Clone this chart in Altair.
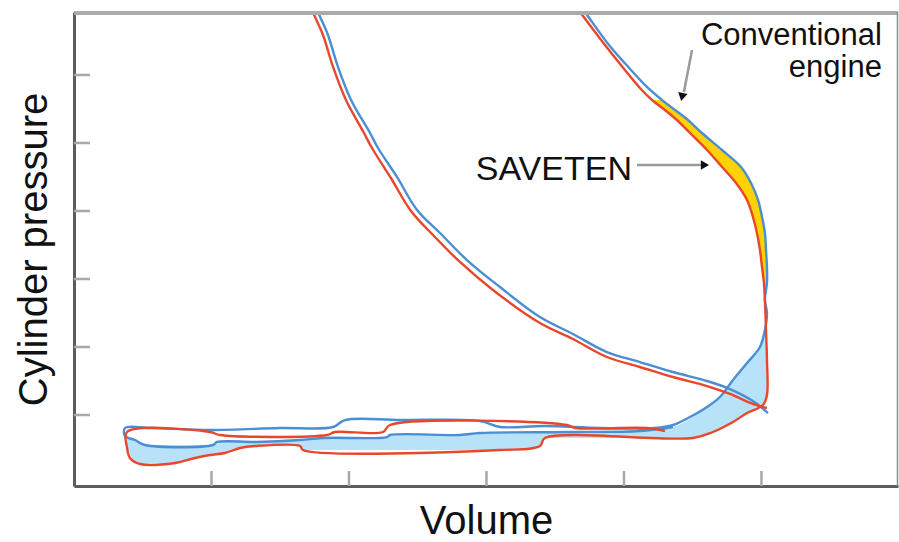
import altair as alt
import pandas as pd

# ---------------- data (volume, pressure; arbitrary units) ----------------
# compression stroke
comp_blue_v = [5.047, 4.938, 4.771, 4.604, 4.356, 4.116, 3.876, 3.629, 3.389, 3.098, 2.858,
               2.662, 2.495, 2.349, 2.211, 2.153, 2.015, 1.920, 1.847, 1.775, 1.702]
comp_blue_p = [1.029, 1.206, 1.382, 1.500, 1.632, 1.779, 1.926, 2.191, 2.441, 2.882, 3.279,
               3.676, 4.015, 4.500, 4.926, 5.147, 5.632, 6.118, 6.588, 6.926, 7.324]
comp_red_v = [5.040, 4.938, 4.771, 4.604, 4.356, 4.116, 3.876, 3.629, 3.389, 3.047, 2.807,
              2.618, 2.451, 2.305, 2.167, 2.109, 1.978, 1.884, 1.811, 1.738, 1.665]
comp_red_p = [1.103, 1.162, 1.309, 1.426, 1.559, 1.706, 1.853, 2.118, 2.353, 2.838, 3.250,
              3.632, 4.000, 4.485, 4.926, 5.147, 5.632, 6.118, 6.588, 6.926, 7.324]

# expansion stroke (shared pressure levels)
exp_p = [7.324, 6.926, 6.441, 6.074, 5.809, 5.632, 5.485, 5.338, 5.147, 4.897, 4.647,
         4.412, 4.162, 3.912, 3.676, 3.426, 3.176, 2.941, 2.691]
exp_red_v = [3.535, 3.680, 3.862, 4.007, 4.116, 4.204, 4.298, 4.385, 4.480, 4.604, 4.713,
             4.815, 4.895, 4.938, 4.967, 4.989, 5.004, 5.018, 5.025]
exp_blue_v = [3.571, 3.716, 3.891, 4.051, 4.175, 4.276, 4.371, 4.465, 4.567, 4.713, 4.851,
              4.924, 4.975, 5.004, 5.025, 5.033, 5.040, 5.040, 5.025]

# blow-down and gas exchange
pump_blue_v = [5.040, 5.025, 4.989, 4.895, 4.793, 4.698, 4.604, 4.480, 4.356, 4.225, 3.825,
               3.425, 3.098, 2.953, 2.371, 1.971, 1.884, 1.498, 0.989, 0.553, 0.371, 0.371,
               0.444, 0.516, 1.011, 1.040, 1.331, 1.644, 1.811, 2.276, 2.298, 2.807, 2.953,
               3.629, 4.116, 4.356]
pump_blue_p = [2.500, 2.250, 2.000, 1.765, 1.515, 1.265, 1.118, 0.971, 0.853, 0.809, 0.809,
               0.838, 0.824, 0.912, 0.926, 0.926, 0.824, 0.809, 0.779, 0.809, 0.809, 0.691,
               0.632, 0.559, 0.559, 0.603, 0.603, 0.632, 0.662, 0.676, 0.706, 0.706, 0.735,
               0.750, 0.765, 0.824]
pump_red_v = [5.033, 5.040, 5.040, 5.011, 4.895, 4.793, 4.647, 4.502, 3.425, 3.389, 3.098,
              1.665, 1.644, 1.316, 1.207, 1.098, 0.989, 0.880, 0.735, 0.480, 0.407, 0.385,
              0.385, 0.989, 1.062, 1.840, 1.898, 2.247, 2.298, 3.585, 3.644, 4.167, 4.298]
pump_red_p = [2.250, 1.809, 1.294, 1.147, 1.029, 0.897, 0.750, 0.662, 0.662, 0.544, 0.485,
              0.485, 0.544, 0.544, 0.515, 0.441, 0.412, 0.368, 0.294, 0.279, 0.368, 0.529,
              0.750, 0.750, 0.706, 0.706, 0.750, 0.750, 0.853, 0.853, 0.809, 0.809, 0.765]

# light-blue difference area in the pumping loop
diff_v = [0.385, 0.407, 0.444, 0.480, 0.516, 0.735, 0.880, 1.011, 1.098, 1.207, 1.331, 1.644,
          1.680, 1.811, 2.276, 2.313, 2.807, 2.953, 3.098, 3.389, 3.425, 4.116, 4.356, 4.502,
          4.604, 4.647, 4.698, 4.793, 4.895, 4.989, 5.025, 5.040]
diff_top = [0.676, 0.662, 0.632, 0.588, 0.559, 0.559, 0.559, 0.559, 0.603, 0.603, 0.603, 0.632,
            0.647, 0.662, 0.676, 0.706, 0.706, 0.735, 0.750, 0.750, 0.750, 0.765, 0.824, 0.971,
            1.118, 1.191, 1.265, 1.515, 1.765, 2.000, 2.250, 2.500]
diff_bot = [0.529, 0.412, 0.324, 0.279, 0.279, 0.294, 0.368, 0.412, 0.441, 0.515, 0.544, 0.544,
            0.485, 0.485, 0.485, 0.485, 0.485, 0.485, 0.485, 0.544, 0.662, 0.662, 0.662, 0.662,
            0.721, 0.750, 0.809, 0.897, 1.029, 1.132, 1.176, 1.294]

x_ticks = [1, 2, 3, 4, 5]
y_ticks = [1, 2, 3, 4, 5, 6]

conv_label = "Conventional\nengine"
conv_v, conv_p = 5.876, 6.441
sav_label = "SAVETEN"
sav_v, sav_p = 4.058, 4.456

arrow_v = [4.495, 4.095]
arrow_p = [6.368, 4.676]
arrow_v2 = [4.436, 4.560]
arrow_p2 = [5.750, 4.676]

# ---------------- build tables ----------------
rows = []
def add(name, eng, vs, ps):
    for i, (v, p) in enumerate(zip(vs, ps)):
        rows.append({"path": name, "engine": eng, "i": i, "v": v, "p": p})

add("blue_comp", "Conventional", comp_blue_v, comp_blue_p)
add("blue_cycle", "Conventional", exp_blue_v + pump_blue_v, exp_p + pump_blue_p)
add("red_comp", "SAVETEN", comp_red_v, comp_red_p)
add("red_cycle", "SAVETEN", exp_red_v + pump_red_v, exp_p + pump_red_p)
lines_df = pd.DataFrame(rows)

band_df = pd.DataFrame({"p": exp_p[5:], "red": exp_red_v[5:], "blue": exp_blue_v[5:]})
diff_df = pd.DataFrame({"v": diff_v, "top": diff_top, "bot": diff_bot})
arrow_df = pd.DataFrame({"v": arrow_v, "p": arrow_p, "v2": arrow_v2, "p2": arrow_p2})
xt_df = pd.DataFrame({"t": x_ticks})
yt_df = pd.DataFrame({"t": y_ticks})
one = pd.DataFrame({"a": [0]})

W, H = 824, 474
FONT = "Liberation Sans"

xscale = alt.Scale(domain=[0, 5.993], nice=False, zero=False)
yscale = alt.Scale(domain=[-0.044, 6.926], nice=False, zero=False)
xaxis = alt.Axis(title="Volume", labels=False, ticks=False, grid=False,
                 domainColor="#5c5c5c", domainWidth=3, titleFont=FONT,
                 titleFontSize=40, titleFontWeight="normal", titleColor="#111111",
                 titlePadding=15)
yaxis = alt.Axis(title="Cylinder pressure", labels=False, ticks=False, grid=False,
                 domainColor="#5c5c5c", domainWidth=3, titleFont=FONT,
                 titleFontSize=40, titleFontWeight="normal", titleColor="#111111",
                 titlePadding=20)

def X(f):
    return alt.X(f, type="quantitative", scale=xscale, axis=xaxis)

def Y(f):
    return alt.Y(f, type="quantitative", scale=yscale, axis=yaxis)

diff_area = alt.Chart(diff_df).mark_area(orient="vertical", color="#b8e2f7", clip=True,
                                         interpolate="monotone").encode(
    x=X("v"), y=Y("top"), y2="bot")

band_area = alt.Chart(band_df).mark_area(orient="horizontal", color="#ffd200", clip=True,
                                         interpolate="monotone").encode(
    y=Y("p"), x=X("red"), x2="blue")

lines = alt.Chart(lines_df).mark_line(strokeWidth=2.4, clip=True,
                                      interpolate="catmull-rom").encode(
    x=X("v"), y=Y("p"),
    color=alt.Color("engine:N", scale=alt.Scale(domain=["Conventional", "SAVETEN"],
                                                range=["#4a8ed6", "#e8472b"]), legend=None),
    detail="path:N",
    order="i:Q")

yticks = alt.Chart(yt_df).mark_rule(color="#a8a8a8", strokeWidth=2.5).encode(
    y=Y("t"), x=alt.value(0), x2=alt.value(16))
xticks = alt.Chart(xt_df).mark_rule(color="#a8a8a8", strokeWidth=2.5).encode(
    x=X("t"), y=alt.value(H), y2=alt.value(H - 15))

top_border = alt.Chart(one).mark_rule(color="#ababab", strokeWidth=4).encode(
    y=alt.value(1), x=alt.value(0), x2=alt.value(W))
right_border = alt.Chart(one).mark_rule(color="#8a8a8a", strokeWidth=1.5).encode(
    x=alt.value(W - 0.5), y=alt.value(0), y2=alt.value(H))

arrows = alt.Chart(arrow_df).mark_rule(color="#9a9a9a", strokeWidth=2.5).encode(
    x=X("v"), y=Y("p"), x2="v2", y2="p2")

head_down = alt.Chart(pd.DataFrame({"v": [4.422], "p": [5.676]})).mark_point(
    shape="triangle-down", filled=True, size=90, color="#111111", opacity=1, angle=12).encode(
    x=X("v"), y=Y("p"))
head_right = alt.Chart(pd.DataFrame({"v": [4.589], "p": [4.676]})).mark_point(
    shape="triangle-right", filled=True, size=90, color="#111111", opacity=1).encode(
    x=X("v"), y=Y("p"))

conv_text = alt.Chart(pd.DataFrame({"label": [conv_label], "v": [conv_v], "p": [conv_p]})).mark_text(
    align="right", baseline="alphabetic", font=FONT, fontSize=31, color="#111111",
    lineBreak="\n", lineHeight=32).encode(x=X("v"), y=Y("p"), text="label:N")

sav_text = alt.Chart(pd.DataFrame({"label": [sav_label], "v": [sav_v], "p": [sav_p]})).mark_text(
    align="right", baseline="alphabetic", font=FONT, fontSize=34, color="#111111").encode(
    x=X("v"), y=Y("p"), text="label:N")

chart = alt.layer(
    diff_area, band_area, lines, yticks, xticks, top_border, right_border,
    arrows, head_down, head_right, conv_text, sav_text
).properties(
    width=W, height=H,
    padding={"left": 74, "top": 12, "right": 1, "bottom": 56},
    autosize=alt.AutoSizeParams(type="none"),
    background="white"
).configure_view(stroke=None)

chart.save("out.html", embed_options={"renderer": "svg", "actions": False})
